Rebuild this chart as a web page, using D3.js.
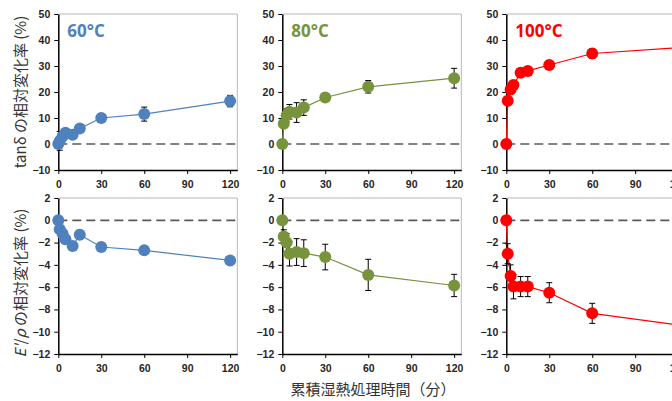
<!DOCTYPE html>
<html>
<head>
<meta charset="utf-8">
<script src="https://cdn.jsdelivr.net/npm/d3@7"></script>
<style>
  body { margin: 0; background: #fff; }
  svg { display: block; }
  .tick text { font-family: "Liberation Sans", Arial, sans-serif; font-weight: bold; font-size: 10.5px; fill: #262626; }
  .axis path, .axis line { stroke: #000; }
  .title { font-family: "Noto Sans CJK JP", "Noto Sans", sans-serif; font-size: 15px; fill: #333; }
  .temp { font-family: "Open Sans", "Liberation Sans", sans-serif; font-weight: bold; font-size: 17px; }
</style>
</head>
<body>
<div id="chart"></div>
<script>
// cumulative treatment time (min)
var times = [0, 1, 3, 5, 10, 15, 30, 60, 120];
var temps = ['60°C', '80°C', '100°C'];
var colors = ['#4f81bd', '#77933c', '#ff0000'];

// tan delta relative change (%)
var tan60 = [0, 1.2, 3.0, 4.3, 3.6, 6.0, 10.0, 11.5, 16.5];
var tan60Err = [0, 3.6, 1.5, 1.3, 1.5, 1.0, 1.0, 2.7, 2.2];
var tan80 = [0, 7.8, 11.0, 12.4, 12.1, 14.0, 17.9, 22.0, 25.3];
var tan80Err = [0, 1.5, 2.5, 2.8, 3.8, 3.0, 1.0, 2.4, 3.8];
var tan100 = [0, 16.6, 21.0, 22.7, 27.4, 28.1, 30.4, 34.8, 37.0];
var tan100Err = [0, 0.8, 1.0, 1.0, 1.0, 1.0, 1.0, 1.9, 2.0];

// E'/rho relative change (%)
var e60 = [0, -0.8, -1.2, -1.7, -2.3, -1.3, -2.4, -2.7, -3.6];
var e60Err = [0, 0.3, 0.3, 0.4, 0.3, 0.4, 0.4, 0.3, 0.3];
var e80 = [0, -1.45, -2.0, -3.0, -2.85, -2.95, -3.3, -4.9, -5.85];
var e80Err = [0, 0.6, 0.8, 1.1, 1.2, 1.2, 1.15, 1.4, 1.0];
var e100 = [0, -3.0, -5.0, -5.95, -5.95, -5.95, -6.5, -8.35, -9.4];
var e100Err = [0, 0.9, 1.0, 1.1, 0.9, 0.9, 0.9, 0.9, 0.9];

var xTicks = [0, 30, 60, 90, 120];
var tanTicks = [-10, 0, 10, 20, 30, 40, 50];
var eTicks = [-12, -10, -8, -6, -4, -2, 0, 2];

var rows = [
    {top: 14, domain: [-10, 50], ticks: tanTicks, series: [[tan60, tan60Err], [tan80, tan80Err], [tan100, tan100Err]]},
    {top: 198, domain: [-12, 2], ticks: eTicks, series: [[e60, e60Err], [e80, e80Err], [e100, e100Err]]}
];

var W = 672, H = 401;
var plotW = 179, plotH = 156, firstLeft = 58.3, colStep = 224;

var svg = d3.select('#chart').append('svg')
    .attr('width', W)
    .attr('height', H);

rows.forEach(function (row, r) {
    var y = d3.scaleLinear().domain(row.domain).range([row.top + plotH, row.top]);

    row.series.forEach(function (s, c) {
        var left = firstLeft + c * colStep;
        var x = d3.scaleLinear().domain([0, 125]).range([left, left + plotW]);
        var vals = s[0], errs = s[1];
        var pts = times.map(function (t, i) { return {t: t, v: vals[i], e: errs[i]}; });

        // frame
        svg.append('path')
            .attr('d', 'M' + x(0) + ',' + y(row.domain[1]) + 'H' + x(125) + 'V' + y(row.domain[0]))
            .attr('fill', 'none')
            .attr('stroke', '#a6a6a6')
            .attr('stroke-width', 0.8);

        // zero line
        svg.append('line')
            .attr('x1', x(0)).attr('x2', x(125))
            .attr('y1', y(0)).attr('y2', y(0))
            .attr('stroke', '#595959')
            .attr('stroke-width', 1.7)
            .attr('stroke-dasharray', '9,5');

        var ax = svg.append('g')
            .attr('class', 'axis')
            .attr('transform', 'translate(0,' + y(row.domain[0]) + ')')
            .call(d3.axisBottom(x).tickValues(xTicks).tickSize(4).tickPadding(7).tickSizeOuter(0));
        var ay = svg.append('g')
            .attr('class', 'axis')
            .attr('transform', 'translate(' + x(0) + ',0)')
            .call(d3.axisLeft(y).tickValues(row.ticks).tickSize(4).tickPadding(4).tickSizeOuter(0));
        ax.select('.domain').attr('stroke-width', 1.5);
        ay.select('.domain').attr('stroke-width', 1.5);

        var line = d3.line()
            .x(function (d) { return x(d.t); })
            .y(function (d) { return y(d.v); });

        svg.append('path')
            .datum(pts)
            .attr('d', line)
            .attr('fill', 'none')
            .attr('stroke', colors[c])
            .attr('stroke-width', 1.2);

        // error bars
        var eb = svg.append('g').attr('stroke', '#000').attr('stroke-width', 1);
        pts.filter(function (d) { return d.e > 0; }).forEach(function (d) {
            eb.append('line')
                .attr('x1', x(d.t)).attr('x2', x(d.t))
                .attr('y1', y(d.v - d.e)).attr('y2', y(d.v + d.e));
            [d.v - d.e, d.v + d.e].forEach(function (v) {
                eb.append('line')
                    .attr('x1', x(d.t) - 3).attr('x2', x(d.t) + 3)
                    .attr('y1', y(v)).attr('y2', y(v));
            });
        });

        svg.append('g').selectAll('circle')
            .data(pts)
            .enter().append('circle')
            .attr('cx', function (d) { return x(d.t); })
            .attr('cy', function (d) { return y(d.v); })
            .attr('r', 6)
            .attr('fill', colors[c]);

        if (r === 0) {
            svg.append('text')
                .attr('class', 'temp')
                .attr('x', left + 9)
                .attr('y', row.top + 23)
                .attr('fill', colors[c])
                .text(temps[c]);
        }
    });
});

// axis titles
svg.append('text')
    .attr('class', 'title')
    .attr('transform', 'translate(26,92) rotate(-90)')
    .attr('text-anchor', 'middle')
    .text('tanδ の相対変化率 (%)');

var t2 = svg.append('text')
    .attr('class', 'title')
    .attr('transform', 'translate(26,283) rotate(-90)')
    .attr('text-anchor', 'middle');
t2.append('tspan').attr('font-style', 'italic').text("E'");
t2.append('tspan').text('/');
t2.append('tspan').attr('font-style', 'italic').text('ρ');
t2.append('tspan').text(' の相対変化率 (%)');

svg.append('text')
    .attr('class', 'title')
    .attr('x', 373)
    .attr('y', 395)
    .attr('text-anchor', 'middle')
    .text('累積湿熱処理時間（分）');
</script>
</body>
</html>
